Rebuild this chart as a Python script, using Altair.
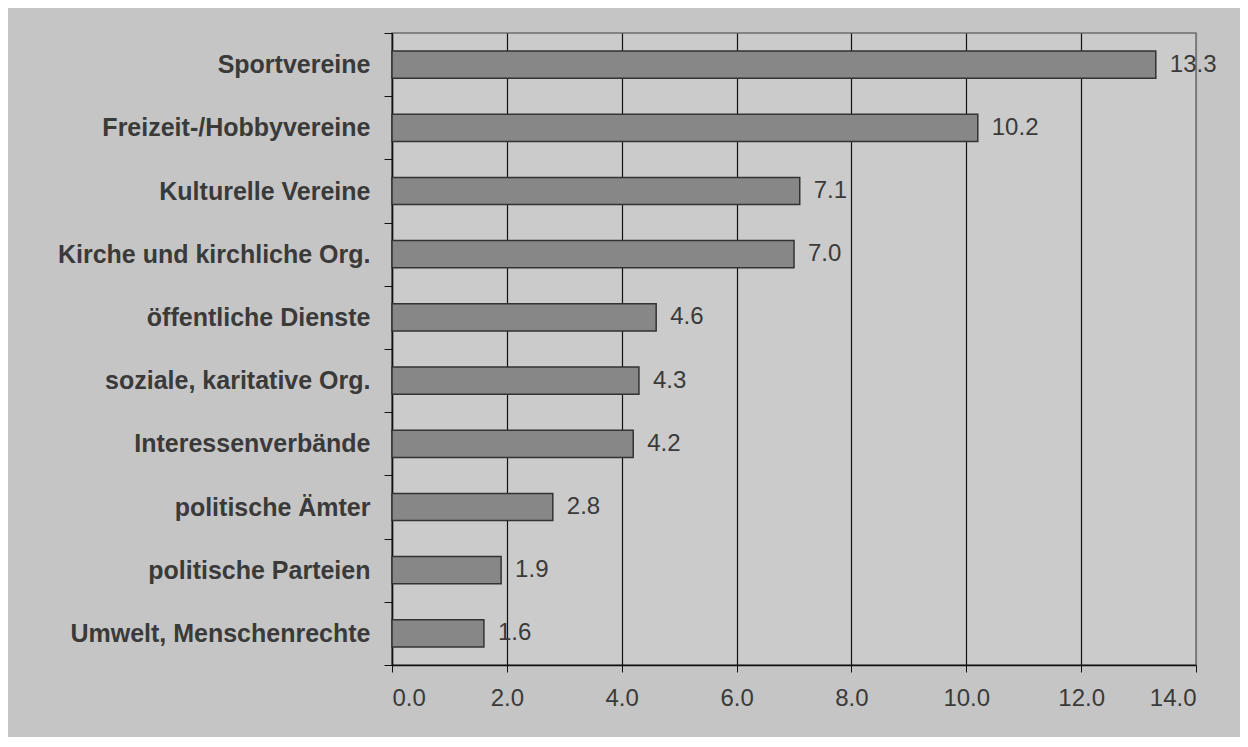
import altair as alt
import pandas as pd

categories = [
    "Sportvereine",
    "Freizeit-/Hobbyvereine",
    "Kulturelle Vereine",
    "Kirche und kirchliche Org.",
    "öffentliche Dienste",
    "soziale, karitative Org.",
    "Interessenverbände",
    "politische Ämter",
    "politische Parteien",
    "Umwelt, Menschenrechte",
]
values = [13.3, 10.2, 7.1, 7.0, 4.6, 4.3, 4.2, 2.8, 1.9, 1.6]
x_ticks = [0, 2, 4, 6, 8, 10, 12, 14]

df = pd.DataFrame({"cat": categories, "val": values})

y_enc = alt.Y(
    "cat:N",
    sort=categories,
    title=None,
    scale=alt.Scale(paddingInner=0, paddingOuter=0),
    axis=alt.Axis(
        tickBand="extent",
        ticks=True,
        tickSize=8,
        tickColor="#111111",
        domainColor="#111111",
        domainWidth=1.5,
        labelFont="Liberation Sans",
        labelFontWeight="bold",
        labelFontSize=25,
        labelColor="#3a3a3a",
        labelPadding=14,
        labelLimit=400,
        grid=False,
    ),
)

x_scale = alt.Scale(domain=[0, 14], nice=False)

x_enc = alt.X(
    "val:Q",
    scale=x_scale,
    title=None,
    axis=alt.Axis(
        values=x_ticks,
        format=".1f",
        grid=True,
        gridColor={"condition": {"test": "datum.value == 14", "value": "#7a7a7a"}, "value": "#111111"},
        gridWidth=1.2,
        tickSize=7,
        tickColor="#111111",
        domainColor="#111111",
        domainWidth=1.5,
        labelFont="Liberation Sans",
        labelFontSize=24,
        labelColor="#3a3a3a",
        labelPadding=14,
    ),
)

bars = alt.Chart(df).mark_bar(
    height=alt.RelativeBandSize(band=0.43),
    color="#878787",
    stroke="#333333",
    strokeWidth=1.5,
).encode(y=y_enc, x=x_enc)

labels = alt.Chart(df).mark_text(
    align="left",
    baseline="middle",
    dx=14,
    font="Liberation Sans",
    fontSize=24,
    color="#3a3a3a",
).encode(
    y=alt.Y("cat:N", sort=categories, title=None),
    x=alt.X("val:Q", scale=x_scale, title=None),
    text=alt.Text("val:Q", format=".1f"),
)

chart = (
    alt.layer(bars, labels)
    .properties(
        width=804,
        height=632,
        autosize=alt.AutoSizeParams(type="none"),
        padding={"left": 384, "top": 25, "right": 44, "bottom": 72},
        background="#c5c5c5",
    )
    .configure_view(fill="#cbcbcb", stroke="#6e6e6e", strokeWidth=1.5)
)

chart.save("out.html", embed_options={"renderer": "svg", "actions": False})
